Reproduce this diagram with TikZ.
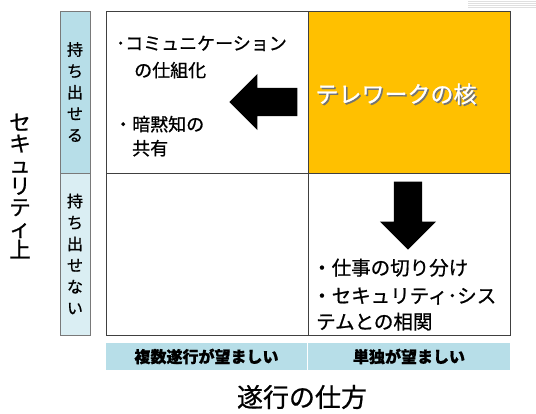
\documentclass[tikz,border=0pt]{standalone}
\usepackage{fontspec}
\setmainfont{Noto Sans CJK JP}[FakeBold=0.8]
\usetikzlibrary{positioning, shapes.arrows}
\definecolor{gridGrey}{HTML}{404040}
\definecolor{tealLight}{HTML}{B7DEE8}
\definecolor{tealPale}{HTML}{DAEEF3}
\definecolor{coreOrange}{HTML}{FFC000}

\begin{document}
\begin{tikzpicture}[x=1pt, y=-1pt, font=\fontsize{18}{27}\selectfont,
    cell/.style={draw=gridGrey, line width=0.9pt, minimum width=202pt, minimum height=162pt, inner sep=0pt, outer sep=0pt},
    rowlabel/.style={draw=gridGrey!70, line width=0.6pt, minimum width=30pt, minimum height=162pt, inner sep=0pt, outer sep=0pt, align=center, font=\fontsize{16}{21.4}\selectfont},
    collabel/.style={fill=tealLight, minimum height=27pt, inner sep=0pt, outer sep=0pt, font=\fontsize{16}{16}\selectfont\bfseries},
    bigarrow/.style={single arrow, fill=black, minimum height=68pt, single arrow head extend=14pt, inner sep=14pt, anchor=tip},
    item/.style={anchor=base west, inner sep=0pt}]
    \fill[white] (0,0) rectangle (536,414);
    \useasboundingbox (0,0) rectangle (536,414);
    \foreach \y in {1,3,5,7}
      \draw[gray!25, line width=0.6pt] (468,\y) -- (536,\y);
    % matrix cells
    \node[cell, anchor=north west] (c11) at (106,11) {};
    \node[cell, fill=coreOrange, right=0pt of c11] (c12) {};
    \node[cell, below=0pt of c11] (c21) {};
    \node[cell, below=0pt of c12] (c22) {};
    % row and column headers
    \node[rowlabel, fill=tealLight, left=16pt of c11] (rowA) {持\\ち\\出\\せ\\る};
    \node[rowlabel, fill=tealPale, below=0pt of rowA] (rowB) {持\\ち\\出\\せ\\な\\い};
    \node[collabel, minimum width=201pt, below=8pt of c21, xshift=-0.5pt] (colA) {複数遂行が望ましい};
    \node[collabel, minimum width=202pt, right=1pt of colA] (colB) {単独が望ましい};
    \node[align=center, inner sep=0pt, font=\fontsize{21.5}{21.2}\selectfont] (axisY) at (20,186) {セ\\キ\\ュ\\リ\\テ\\ィ\\上};
    \node[inner sep=0pt, font=\fontsize{26}{26}\selectfont] (axisX) at (302,397) {遂行の仕方};
    % core
    \node[inner sep=0pt, text=black!55, font=\fontsize{23}{23}\selectfont] (coreShadow) at (397.5,95.5) {テレワークの核};
    \node[inner sep=0pt, text=white, font=\fontsize{23}{23}\selectfont] (core) at (396,94) {テレワークの核};
    \node[bigarrow, shape border rotate=180] (arrL) at (229,102) {};
    \node[bigarrow, shape border rotate=270] (arrD) at (408,250) {};
    % items
    \node[item] (itemA1) at (116,50) {･コミュニケーション};
    \node[item] (itemA2) at (134,77) {の仕組化};
    \node[item] (itemB1) at (114,131) {・暗黙知の};
    \node[item] (itemB2) at (132,155) {共有};
    \node[item, font=\fontsize{19.5}{27}\selectfont] (itemC1) at (312,275) {・仕事の切り分け};
    \node[item, font=\fontsize{19.5}{27}\selectfont] (itemC2) at (312,303) {・セキュリティ･シス};
    \node[item, font=\fontsize{19.5}{27}\selectfont] (itemC3) at (316,329) {テムとの相関};
  \end{tikzpicture}
\end{document}
